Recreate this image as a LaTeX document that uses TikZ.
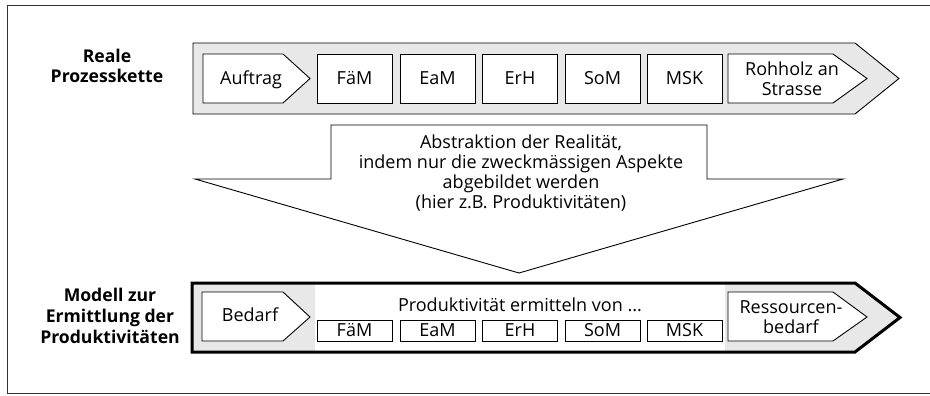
\documentclass[tikz,border=0pt]{standalone}
\usepackage{fontspec}
\setmainfont{Open Sans}
\begin{document}
\begin{tikzpicture}[x=1pt,y=-1pt,
  txt/.style={font=\fontsize{18}{20.2}\selectfont, align=center, inner sep=0pt},
  lbl/.style={font=\fontsize{17.6}{20.8}\selectfont\bfseries, align=center, inner sep=0pt},
  stepbox/.style={draw=black, line width=0.9pt, fill=white, minimum width=75pt, inner sep=0pt,
    font=\fontsize{18}{20.2}\selectfont},
  bigbox/.style={stepbox, minimum height=49pt},
  smallbox/.style={stepbox, minimum height=21pt},
  pent/.style={draw=black, line width=0.9pt, fill=white, line join=miter},
  chain/.style={draw=black, line width=0.9pt, fill=black!9, line join=miter},
]
\useasboundingbox (0,0) rectangle (930,396);
% frame (open at right)
\draw[black!80, line width=0.9pt] (930,5) -- (7,5) -- (7,393) -- (930,393);

% ===== top chain =====
\coordinate (t1) at (193,43);
\coordinate (t2) at (855,43);
\coordinate (t3) at (899,78.5);
\coordinate (t4) at (855,114);
\coordinate (t5) at (193,114);
\path[chain] (t1) -- (t2) -- (t3) -- (t4) -- (t5) -- cycle;

\path[pent] (203,54) -- (283,54) -- (310,78.5) -- (283,103) -- (203,103) -- cycle;
\node[txt] (auftrag) at (251,80) {Auftrag};
\node[bigbox] (fam1) at (354.5,78.5) {FäM};
\node[bigbox] (eam1) at (437.5,78.5) {EaM};
\node[bigbox] (erh1) at (520,78.5) {ErH};
\node[bigbox] (som1) at (602.5,78.5) {SoM};
\node[bigbox] (msk1) at (684.5,78.5) {MSK};
\path[pent] (728,54) -- (833,54) -- (867,78.5) -- (833,103) -- (728,103) -- cycle;
\node[txt] (rohholz) at (792,79) {Rohholz an\\Strasse};

\node[lbl] (reale) at (107,66) {Reale\\Prozesskette};

% ===== abstraction arrow =====
\coordinate (a1) at (331,125);
\coordinate (a2) at (707,125);
\coordinate (a3) at (707,179);
\coordinate (a4) at (843,179);
\coordinate (a5) at (519,273);
\coordinate (a6) at (195,179);
\coordinate (a7) at (331,179);
\path[draw=black, line width=0.9pt, fill=white, line join=miter]
  (a1) -- (a2) -- (a3) -- (a4) -- (a5) -- (a6) -- (a7) -- cycle;
\node[txt] (abstr) at (521,173) {Abstraktion der Realität,\\indem nur die zweckmässigen Aspekte\\abgebildet werden\\(hier z.B. Produktivitäten)};

% ===== bottom chain =====
\coordinate (b1) at (192,283);
\coordinate (b2) at (855,283);
\coordinate (b3) at (900,317.5);
\coordinate (b4) at (855,352);
\coordinate (b5) at (192,352);
\path[fill=black!9] (b1) -- (b2) -- (b3) -- (b4) -- (b5) -- cycle;
\fill[white] (315,283) rectangle (725,352);
\draw[black, line width=3pt, line join=miter] (b1) -- (b2) -- (b3) -- (b4) -- (b5) -- cycle;

\path[pent] (202,292) -- (283,292) -- (310,317) -- (283,341) -- (202,341) -- cycle;
\node[txt] (bedarf) at (250,315) {Bedarf};
\node[txt] (prod) at (520,305) {Produktivität ermitteln von ...};
\node[smallbox] (fam2) at (354.5,330.5) {FäM};
\node[smallbox] (eam2) at (437.5,330.5) {EaM};
\node[smallbox] (erh2) at (520,330.5) {ErH};
\node[smallbox] (som2) at (602.5,330.5) {SoM};
\node[smallbox] (msk2) at (684.5,330.5) {MSK};
\path[pent] (728,292) -- (833,292) -- (867,317) -- (833,341) -- (728,341) -- cycle;
\node[txt] (ress) at (791,317) {Ressourcen-\\bedarf};

\node[lbl] (modell) at (110,316) {Modell zur\\Ermittlung der\\Produktivitäten};
\end{tikzpicture}
\end{document}
